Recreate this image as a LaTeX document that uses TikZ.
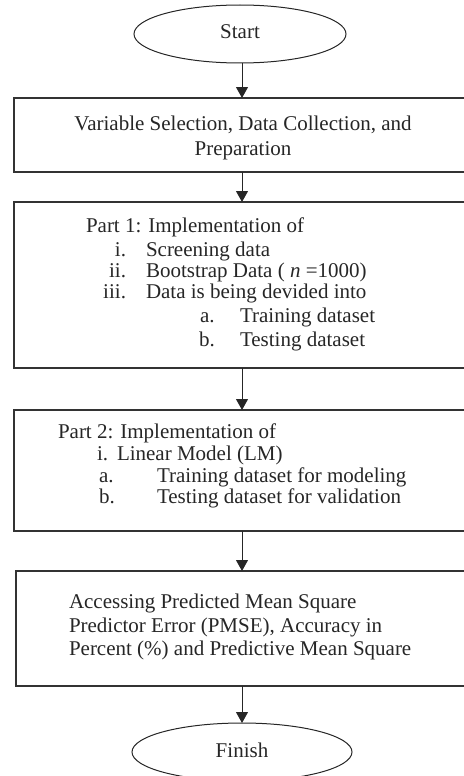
\documentclass[tikz,border=0pt]{standalone}
\usepackage{fontspec}
\setmainfont{Liberation Serif}
\usetikzlibrary{shapes.geometric,arrows.meta}
\begin{document}
\begin{tikzpicture}[x=1pt,y=-1pt,
  every node/.style={inner sep=0pt,outer sep=0pt},
  txt/.style={font=\fontsize{21}{25}\selectfont,anchor=west,text=black!85,text height=15pt,text depth=5pt},
  ctxt/.style={font=\fontsize{21}{25}\selectfont,text=black!85,text height=15pt,text depth=5pt},
  box/.style={draw=black!80,line width=1.2pt},
  term/.style={ellipse,draw=black!85,line width=1pt},
  arr/.style={draw=black!85,line width=1pt,-{Triangle[length=11pt,width=12pt]}}]
\useasboundingbox (0,0) rectangle (463,776);
% terminals
\node[term,minimum width=212pt,minimum height=58pt] (start) at (240,34) {};
\node[ctxt] (starttxt) at (240,34) {Start};
\node[term,minimum width=220pt,minimum height=58pt] (finish) at (242,752) {};
\node[ctxt] (finishtxt) at (242,752) {Finish};
% boxes
\node[box,minimum width=460pt,minimum height=74pt,anchor=north west] (b1) at (14,98) {};
\node[box,minimum width=460pt,minimum height=166pt,anchor=north west] (b2) at (14,202) {};
\node[box,minimum width=460pt,minimum height=121pt,anchor=north west] (b3) at (14,410) {};
\node[box,minimum width=460pt,minimum height=115pt,anchor=north west] (b4) at (16,571) {};
% box 1 text
\node[ctxt] (t11) at (243,125) {Variable Selection, Data Collection, and};
\node[ctxt] (t12) at (243,150) {Preparation};
% box 2 text
\node[txt] (t21) at (86,227) {Part 1: Implementation of};
\node[txt,anchor=east] (n22) at (126,251) {i.};
\node[txt] (t22) at (146,251) {Screening data};
\node[txt,anchor=east] (n23) at (126,272) {ii.};
\node[txt] (t23) at (146,272) {Bootstrap Data ( \textit{n} =1000)};
\node[txt,anchor=east] (n24) at (126,293) {iii.};
\node[txt] (t24) at (146,293) {Data is being devided into};
\node[txt] (n25) at (200,317) {a.};
\node[txt] (t25) at (240,317) {Training dataset};
\node[txt] (n26) at (199,341) {b.};
\node[txt] (t26) at (240,341) {Testing dataset};
% box 3 text
\node[txt] (t31) at (58,433) {Part 2: Implementation of};
\node[txt] (n32) at (97,455) {i.};
\node[txt] (t32) at (117,455) {Linear Model (LM)};
\node[txt] (n33) at (99,477) {a.};
\node[txt] (t33) at (157,477) {Training dataset for modeling};
\node[txt] (n34) at (99,498) {b.};
\node[txt] (t34) at (157,498) {Testing dataset for validation};
% box 4 text
\node[txt] (t41) at (69,603) {Accessing Predicted Mean Square};
\node[txt] (t42) at (69,627) {Predictor Error (PMSE), Accuracy in};
\node[txt] (t43) at (69,650) {Percent (\%) and Predictive Mean Square};
% arrows
\draw[arr] (start.south -| 242,0) -- (b1.north -| 242,0);
\draw[arr] (b1.south -| 242,0) -- (b2.north -| 242,0);
\draw[arr] (b2.south -| 242,0) -- (b3.north -| 242,0);
\draw[arr] (b3.south -| 242,0) -- (b4.north -| 242,0);
\draw[arr] (b4.south -| 242,0) -- (finish.north -| 242,0);
\end{tikzpicture}
\end{document}
